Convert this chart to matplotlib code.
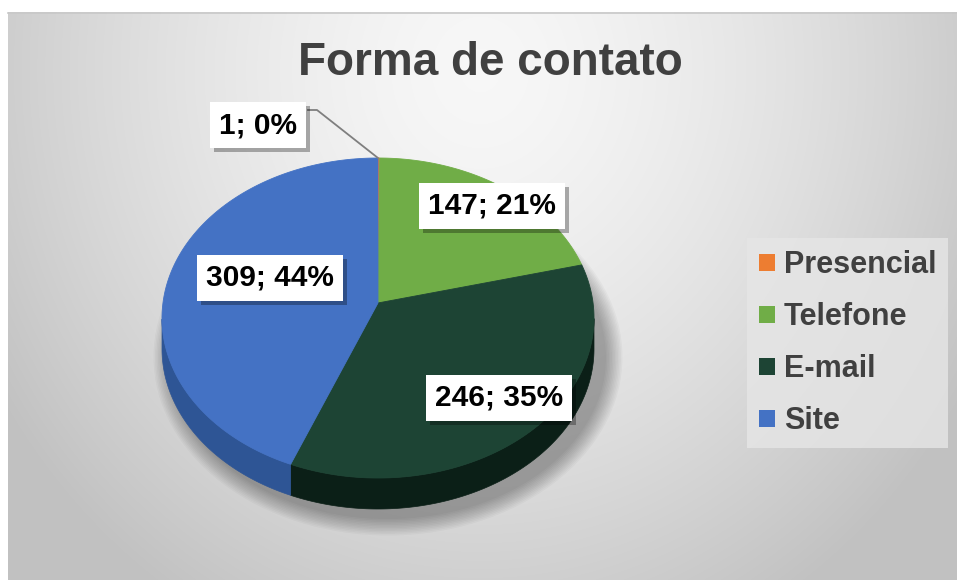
import numpy as np
import matplotlib
matplotlib.use("Agg")
import matplotlib.pyplot as plt
from matplotlib.patches import Polygon, Patch, Ellipse
import matplotlib.patheffects as pe

categories = ["Presencial", "Telefone", "E-mail", "Site"]
values = [1, 147, 246, 309]
top_colors = ["#ED7D31", "#70AD47", "#1D4434", "#4472C4"]
side_colors = ["#B35A1F", "#4F7D30", "#0B1F17", "#2E5595"]

# layout of the drawing (pixels)
W, H = 957, 580
CX, CY, RX, RY = 378, 318, 216, 160
DEPTH = 31
PERSP = 0.094
label_pos = [(258, 125), (492, 206), (499, 398), (270, 278)]

plt.rcParams['font.family'] = ['Liberation Sans', 'DejaVu Sans']

fig = plt.figure(figsize=(W / 100, H / 100), dpi=100)
fig.patch.set_facecolor("white")
ax = fig.add_axes([0, 0, 1, 1])
ax.set_xlim(0, W)
ax.set_ylim(H, 0)
ax.axis("off")

# background gradient of the chart area
yy, xx = np.mgrid[12:H, 8:W]
d = np.sqrt(((xx - 480) / 470.0) ** 2 + ((yy - 70) / 520.0) ** 2)
bg = np.clip(0.97 - 0.16 * d ** 1.5, 0.76, 1.0)
ax.imshow(np.dstack([bg, bg, bg]), extent=(8, W, H, 12), aspect="auto", zorder=0)
ax.plot([8, W], [12.5, 12.5], color="#c8c8c8", lw=1.2, zorder=1)


def project(phi):
    # disk point at angle phi (deg) -> screen coordinates, with slight perspective
    u, v = np.cos(np.radians(phi)), np.sin(np.radians(phi))
    xp = u * np.sqrt(1 - PERSP ** 2) / (1 + PERSP * v)
    yp = (v + PERSP) / (1 + PERSP * v)
    return CX + RX * xp, CY - RY * yp


# soft shadow
for i in range(12):
    ax.add_patch(Ellipse((CX + 10, CY + DEPTH + 8), 2 * RX + 4 + 3 * i, 2 * RY + 4 + 3 * i,
                         facecolor="#000000", alpha=0.028, edgecolor="none", zorder=1))

total = float(sum(values))
bounds = 90 - 360 * np.concatenate([[0], np.cumsum(values)]) / total
vx, vy = CX, CY - RY * PERSP

# sides (front part only)
for i in range(len(values)):
    a1, a2 = bounds[i + 1], bounds[i]
    phis = np.linspace(a1, a2, 300)
    px, py = project(phis)
    ang = np.degrees(np.arctan2(-(py - CY), px - CX)) % 360
    front = np.sin(np.radians(ang)) <= 0.0001
    if front.sum() < 2:
        continue
    fx, fy = px[front], py[front]
    pts = np.column_stack([np.concatenate([fx, fx[::-1]]),
                           np.concatenate([fy, fy[::-1] + DEPTH])])
    ax.add_patch(Polygon(pts, closed=True, facecolor=side_colors[i],
                         edgecolor=side_colors[i], lw=0.5, zorder=2))

# top faces
for i in range(len(values)):
    a1, a2 = bounds[i + 1], bounds[i]
    phis = np.linspace(a1, a2, max(3, int(abs(a2 - a1) * 3)))
    px, py = project(phis)
    pts = np.column_stack([np.concatenate([[vx], px]), np.concatenate([[vy], py])])
    ax.add_patch(Polygon(pts, closed=True, facecolor=top_colors[i],
                         edgecolor=top_colors[i], lw=0.6, zorder=3))

# leader line for the tiny slice
tx, ty = project(90)
ax.plot([308, 317, tx], [110, 110, ty], color="#7f7f7f", lw=1.3, zorder=4)

# data labels
for i, (x, y) in enumerate(label_pos):
    pct = 100.0 * values[i] / total
    t = ax.text(x, y, "{}; {:.0f}%".format(values[i], pct), ha="center", va="center",
                fontsize=21.5, fontweight="bold", color="black", zorder=6,
                bbox=dict(boxstyle="square,pad=0.3", facecolor="white", edgecolor="none"))
    t.get_bbox_patch().set_path_effects([
        pe.SimplePatchShadow(offset=(3, -3), shadow_rgbFace="black", alpha=0.3),
        pe.Normal()])

ax.text(490, 63, "Forma de contato", ha="center", va="center", fontsize=33,
        fontweight="bold", color="#404040", zorder=6)

handles = [Patch(facecolor=c, edgecolor="none") for c in top_colors]
leg = ax.legend(handles, categories, loc="upper left", bbox_to_anchor=(747, 238),
                bbox_transform=ax.transData, frameon=True, fancybox=False,
                prop=dict(weight="bold", size=22), labelcolor="#404040",
                handlelength=0.5, handleheight=0.5, handletextpad=0.3,
                labelspacing=0.72, borderpad=0.4, borderaxespad=0)
leg.get_frame().set_facecolor("#e6e6e6")
leg.get_frame().set_edgecolor("none")
leg.get_frame().set_alpha(0.8)
leg.set_zorder(6)

fig.savefig("out.png", dpi=100, facecolor=fig.get_facecolor())
